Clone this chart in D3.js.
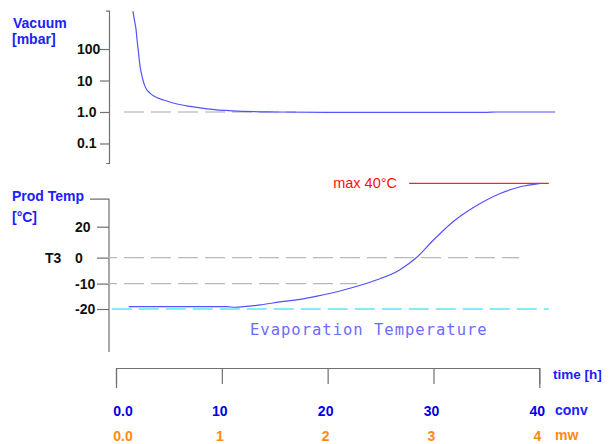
<!DOCTYPE html>
<html>
<head>
<meta charset="utf-8">
<script src="https://cdn.jsdelivr.net/npm/d3@7"></script>
<style>
  body { margin: 0; background: #fff; }
  svg { display: block; font-family: 'Liberation Sans', Arial, sans-serif; }
  .axis path, .axis line { stroke: #707070; stroke-width: 1.2; }
  .axis text { display: none; }
</style>
</head>
<body>
<svg id="chart" width="615" height="444"></svg>
<script>
'use strict';

// time axis
let timeTicks = [0, 10, 20, 30, 40];
let convLabels = ['0.0', '10', '20', '30', '40'];
let mwLabels = ['0.0', '1', '2', '3', '4'];

// vacuum axis (log)
let vacTicks = [0.1, 1, 10, 100];
let vacTickLabels = ['0.1', '1.0', '10', '100'];
let vacExtent = [0.024, 1650];

// vacuum curve [mbar] vs time [h]
let vacTime  = [1.6, 1.75, 1.9, 2.0, 2.1, 2.2, 2.3, 2.5, 2.75, 3.2, 3.7, 4.5, 5.4, 7, 8.6, 11, 15, 20, 30, 35, 36, 41.5];
let vacValue = [1600, 800, 400, 180, 93, 45, 25, 12, 6.4, 4, 3.06, 2.4, 1.93, 1.5, 1.25, 1.08, 1.0, 0.97, 0.97, 0.98, 1.0, 1.0];

// product temperature axis
let tempTicks = [-20, -10, 0, 20];
let tempTickLabels = ['-20', '-10', '0', '20'];
let tempExtent = [-37, 32.7];

// product temperature curve [°C] vs time [h]
let tempTime  = [1.2, 6, 10.5, 11.2, 13.6, 15.5, 17.4, 19.0, 21.5, 24.6, 26.8, 28.4, 30.0, 31.85, 33.7, 36.3, 38.2, 40.1];
let tempValue = [-19.1, -19.1, -19.1, -19.3, -18.4, -17.2, -16.2, -14.9, -12.5, -8.6, -4.7, 0.1, 11.4, 22.3, 28.6, 35.3, 38.4, 40];

// reference lines: value, from, to (hours)
let tempRefLines = [
  {value: 0, from: -1.8, to: 38.1, color: '#b8b8b8'},
  {value: -10, from: -1.8, to: 22.8, color: '#b8b8b8'},
  {value: -20, from: -0.4, to: 40.9, color: '#5ae8ee'}
];
let maxTemp = 40;
let maxLine = [27.7, 40.9];

//Formatting
let axisX = 109;
let blue = '#2020ff';
let curveColor = '#5252ff';
let dash = '20,7';

let svg = d3.select('#chart');

//Scales
let x = d3.scaleLinear().domain([0, 40]).range([116, 539.3]);
let yVac = d3.scaleLog().domain(vacExtent).range([163, 10.7]);
let yTemp = d3.scaleLinear()
  .domain([-20, -10, 0, 20, 40])
  .range([309, 283.7, 257.7, 226.7, 183.3]);

//Vacuum axis
svg.append('g')
  .attr('class', 'axis')
  .attr('transform', `translate(${axisX},0)`)
  .call(d3.axisLeft(yVac).tickValues(vacTicks).tickSize(9).tickSizeOuter(3));

svg.selectAll('.vacLabel')
  .data(vacTicks)
  .enter()
  .append('text')
  .attr('x', 77)
  .attr('y', (d) => yVac(d) + 5)
  .attr('font-size', 14)
  .attr('font-weight', 'bold')
  .attr('fill', '#111')
  .text((d, i) => vacTickLabels[i]);

// 1.0 mbar reference
svg.append('line')
  .attr('x1', 124).attr('x2', x(17))
  .attr('y1', yVac(1)).attr('y2', yVac(1))
  .attr('stroke', '#a8a8a8').attr('stroke-width', 1.2)
  .attr('stroke-dasharray', dash);

let vacLine = d3.line()
  .x((d, i) => x(vacTime[i]))
  .y((d) => yVac(d))
  .curve(d3.curveMonotoneX);

svg.append('path')
  .attr('d', vacLine(vacValue))
  .attr('fill', 'none')
  .attr('stroke', curveColor)
  .attr('stroke-width', 1.2);

svg.append('text').attr('x', 13).attr('y', 28).attr('font-size', 14).attr('font-weight', 'bold')
  .attr('fill', blue).text('Vacuum');
svg.append('text').attr('x', 12).attr('y', 44).attr('font-size', 14).attr('font-weight', 'bold')
  .attr('fill', blue).text('[mbar]');

//Temperature axis
let tempAxis = svg.append('g')
  .attr('class', 'axis')
  .attr('transform', `translate(${axisX},0)`)
  .call(d3.axisLeft(yTemp).tickValues(tempTicks).tickSize(12).tickSizeOuter(0));
tempAxis.select('.domain').remove();
tempAxis.append('path')
  .attr('d', `M-19,${yTemp(tempExtent[1])}H0V${yTemp(tempExtent[0])}`)
  .attr('fill', 'none');

svg.selectAll('.tempLabel')
  .data(tempTicks)
  .enter()
  .append('text')
  .attr('x', 75)
  .attr('y', (d) => yTemp(d) + 5)
  .attr('font-size', 14)
  .attr('font-weight', 'bold')
  .attr('fill', '#111')
  .text((d, i) => tempTickLabels[i]);

svg.append('text').attr('x', 45).attr('y', yTemp(0) + 5).attr('font-size', 14).attr('font-weight', 'bold')
  .attr('fill', '#111').text('T3');

svg.selectAll('.refLine')
  .data(tempRefLines)
  .enter()
  .append('line')
  .attr('x1', (d) => x(d.from)).attr('x2', (d) => x(d.to))
  .attr('y1', (d) => yTemp(d.value)).attr('y2', (d) => yTemp(d.value))
  .attr('stroke', (d) => d.color)
  .attr('stroke-width', 1.3)
  .attr('stroke-dasharray', dash);

svg.append('line')
  .attr('x1', x(maxLine[0])).attr('x2', x(maxLine[1]))
  .attr('y1', yTemp(maxTemp)).attr('y2', yTemp(maxTemp))
  .attr('stroke', '#ff2020').attr('stroke-width', 1.2);

svg.append('text').attr('x', 397).attr('y', yTemp(maxTemp) + 5).attr('font-size', 14.5)
  .attr('text-anchor', 'end').attr('fill', '#ff1010').text('max 40°C');

let tempLine = d3.line()
  .x((d, i) => x(tempTime[i]))
  .y((d) => yTemp(d))
  .curve(d3.curveMonotoneX);

svg.append('path')
  .attr('d', tempLine(tempValue))
  .attr('fill', 'none')
  .attr('stroke', curveColor)
  .attr('stroke-width', 1.2);

svg.append('text').attr('x', 12).attr('y', 201).attr('font-size', 14).attr('font-weight', 'bold')
  .attr('fill', blue).text('Prod Temp');
svg.append('text').attr('x', 12).attr('y', 222).attr('font-size', 14).attr('font-weight', 'bold')
  .attr('fill', blue).text('[°C]');

svg.append('text')
  .attr('x', 250).attr('y', 335)
  .attr('font-family', "'DejaVu Sans Mono', monospace")
  .attr('font-size', 15.5)
  .attr('letter-spacing', 1)
  .attr('fill', '#6c6cff')
  .text('Evaporation Temperature');

//Time axis
svg.append('g')
  .attr('class', 'axis')
  .attr('transform', 'translate(0,368)')
  .call(d3.axisBottom(x).tickValues(timeTicks).tickSize(16).tickSizeOuter(20));

svg.selectAll('.convLabel')
  .data(timeTicks)
  .enter()
  .append('text')
  .attr('x', (d) => x(d) + (d === 0 ? 7 : -2))
  .attr('y', 415.5)
  .attr('text-anchor', 'middle')
  .attr('font-size', 14)
  .attr('font-weight', 'bold')
  .attr('fill', '#0000e6')
  .text((d, i) => convLabels[i]);

svg.selectAll('.mwLabel')
  .data(timeTicks)
  .enter()
  .append('text')
  .attr('x', (d) => x(d) + (d === 0 ? 7 : -2))
  .attr('y', 440.5)
  .attr('text-anchor', 'middle')
  .attr('font-size', 14)
  .attr('font-weight', 'bold')
  .attr('fill', '#ff8a10')
  .text((d, i) => mwLabels[i]);

svg.append('text').attr('x', 553).attr('y', 379).attr('font-size', 13.5).attr('font-weight', 'bold')
  .attr('fill', blue).text('time [h]');
svg.append('text').attr('x', 555).attr('y', 415).attr('font-size', 14).attr('font-weight', 'bold')
  .attr('fill', blue).text('conv');
svg.append('text').attr('x', 555).attr('y', 440).attr('font-size', 14).attr('font-weight', 'bold')
  .attr('fill', '#ff8a10').text('mw');
</script>
</body>
</html>
